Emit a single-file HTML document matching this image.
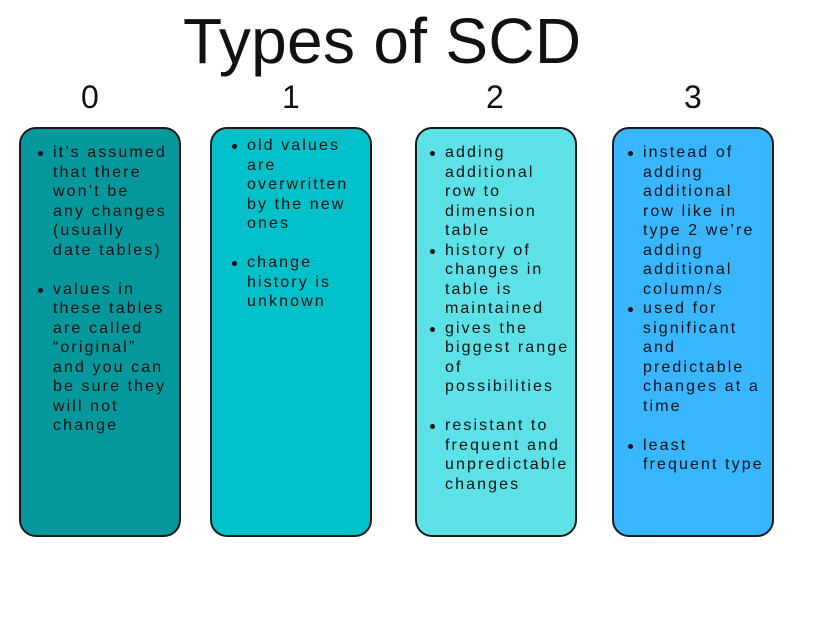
<!DOCTYPE html>
<html><head><meta charset="utf-8"><style>
body{margin:0;width:828px;height:621px;background:#fff;position:relative;overflow:hidden;font-family:"Liberation Sans",sans-serif;color:#111}
.t{position:absolute;line-height:1;white-space:nowrap}
.box{position:absolute;top:127px;width:162px;height:410px;border:2px solid #1a1a1a;border-radius:17px;box-sizing:border-box}
.txt{position:absolute;font-size:16px;line-height:19.5px;letter-spacing:2.1px;white-space:nowrap}
.txt div{position:relative;height:19.5px}
.b::before{content:"";position:absolute;left:-15px;top:8px;width:5px;height:5px;border-radius:50%;background:#111}
</style></head><body>
<div class="t" style="left:183px;top:9px;font-size:64px;width:400px;text-align:left;letter-spacing:0.3px">Types of SCD</div>
<div class="t" style="left:81px;top:81px;font-size:32px">0</div>
<div class="t" style="left:282px;top:81px;font-size:32px">1</div>
<div class="t" style="left:486px;top:81px;font-size:32px">2</div>
<div class="t" style="left:684px;top:81px;font-size:32px">3</div>

<div class="box" style="left:19px;background:#04979b"></div>
<div class="box" style="left:210px;background:#00c0c9"></div>
<div class="box" style="left:415px;background:#5ce2e6"></div>
<div class="box" style="left:612px;background:#38b6ff"></div>

<div class="txt" style="left:53px;top:143px">
<div class="b">it’s assumed</div><div>that there</div><div>won’t be</div><div>any changes</div><div>(usually</div><div>date tables)</div><div></div>
<div class="b">values in</div><div>these tables</div><div>are called</div><div>“original”</div><div>and you can</div><div>be sure they</div><div>will not</div><div>change</div>
</div>

<div class="txt" style="left:247px;top:136px">
<div class="b">old values</div><div>are</div><div>overwritten</div><div>by the new</div><div>ones</div><div></div>
<div class="b">change</div><div>history is</div><div>unknown</div>
</div>

<div class="txt" style="left:445px;top:143px">
<div class="b">adding</div><div>additional</div><div>row to</div><div>dimension</div><div>table</div>
<div class="b">history of</div><div>changes in</div><div>table is</div><div>maintained</div>
<div class="b">gives the</div><div>biggest range</div><div>of</div><div>possibilities</div><div></div>
<div class="b">resistant to</div><div>frequent and</div><div>unpredictable</div><div>changes</div>
</div>

<div class="txt" style="left:643px;top:143px">
<div class="b">instead of</div><div>adding</div><div>additional</div><div>row like in</div><div>type 2 we’re</div><div>adding</div><div>additional</div><div>column/s</div>
<div class="b">used for</div><div>significant</div><div>and</div><div>predictable</div><div>changes at a</div><div>time</div><div></div>
<div class="b">least</div><div>frequent type</div>
</div>
</body></html>
